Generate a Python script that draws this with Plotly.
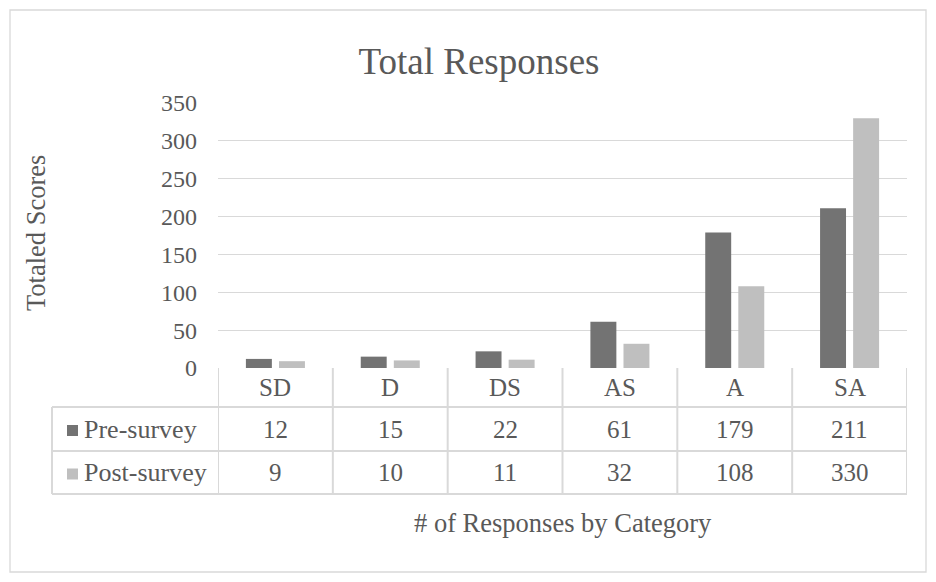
import plotly.graph_objects as go

# Survey response totals per agreement category
categories = ["SD", "D", "DS", "AS", "A", "SA"]
pre_survey = [12, 15, 22, 61, 179, 211]
post_survey = [9, 10, 11, 32, 108, 330]
series_names = ["Pre-survey", "Post-survey"]
y_ticks = [0, 50, 100, 150, 200, 250, 300, 350]

W, H = 936, 582
PL, PR, PT, PB = 218, 907, 103, 368  # plot area edges in pixels
TEXT = "#595959"
LINE = "#d9d9d9"
COLORS = ["#737373", "#bfbfbf"]
FONT = "Liberation Serif"


def px_x(p):
    return (p - PL) / (PR - PL)


def px_y(p):
    return (PB - p) / (PB - PT)


fig = go.Figure()
idx = list(range(len(categories)))
for name, vals, col, off in zip(series_names, [pre_survey, post_survey], COLORS, [-0.257, 0.031]):
    fig.add_trace(go.Bar(x=idx, y=vals, name=name, marker=dict(color=col, line=dict(width=0)),
                         width=0.226, offset=off, showlegend=False))

shapes = []
annotations = []

# outer chart border
shapes.append(dict(type="rect", xref="paper", yref="paper", x0=px_x(10), x1=px_x(926),
                   y0=px_y(572), y1=px_y(10), line=dict(color=LINE, width=1.3), layer="below"))

# data table grid
row_lines = [407, 451, 494]
table_left = 52
for i in range(len(categories) + 1):
    shapes.append(dict(type="line", xref="x", yref="paper", x0=i - 0.5, x1=i - 0.5,
                       y0=px_y(PB), y1=px_y(row_lines[-1]), line=dict(color=LINE, width=2)))
for r in row_lines:
    shapes.append(dict(type="line", xref="paper", yref="paper", x0=px_x(table_left), x1=1,
                       y0=px_y(r), y1=px_y(r), line=dict(color=LINE, width=2)))
shapes.append(dict(type="line", xref="paper", yref="paper", x0=px_x(table_left), x1=px_x(table_left),
                   y0=px_y(row_lines[0]), y1=px_y(row_lines[-1]), line=dict(color=LINE, width=2)))

header_y = (PB + row_lines[0]) / 2
row_ys = [(row_lines[0] + row_lines[1]) / 2, (row_lines[1] + row_lines[2]) / 2]

for i, c in enumerate(categories):
    annotations.append(dict(x=i, y=px_y(header_y), xref="x", yref="paper", text=c, showarrow=False,
                            font=dict(size=25, color=TEXT, family=FONT), xanchor="center", yanchor="middle"))
for vals, ry in zip([pre_survey, post_survey], row_ys):
    for i, v in enumerate(vals):
        annotations.append(dict(x=i, y=px_y(ry), xref="x", yref="paper", text=str(v), showarrow=False,
                                font=dict(size=25, color=TEXT, family=FONT), xanchor="center", yanchor="middle"))

# series labels with legend keys
for name, col, ry in zip(series_names, COLORS, row_ys):
    shapes.append(dict(type="rect", xref="paper", yref="paper", x0=px_x(67), x1=px_x(78),
                       y0=px_y(ry + 7), y1=px_y(ry - 4), fillcolor=col, line=dict(width=0)))
    annotations.append(dict(x=px_x(82), y=px_y(ry), xref="paper", yref="paper", text=name,
                            showarrow=False, font=dict(size=26, color=TEXT, family=FONT),
                            xanchor="left", yanchor="middle"))

# axis titles
annotations.append(dict(x=px_x(36), y=px_y(233), xref="paper", yref="paper", text="Totaled Scores",
                        textangle=-90, showarrow=False, font=dict(size=26.5, color=TEXT, family=FONT),
                        xanchor="center", yanchor="middle"))
annotations.append(dict(x=0.5, y=px_y(523), xref="paper", yref="paper", text="# of Responses by Category",
                        showarrow=False, font=dict(size=26.5, color=TEXT, family=FONT),
                        xanchor="center", yanchor="middle"))

fig.update_layout(
    width=W, height=H, autosize=False,
    margin=dict(l=PL, r=W - PR, t=PT, b=H - PB, pad=0),
    paper_bgcolor="white", plot_bgcolor="white",
    title=dict(text="Total Responses", x=479 / W, xref="container", xanchor="center",
               y=1 - 61 / H, yref="container", yanchor="middle",
               font=dict(size=37, color=TEXT, family=FONT)),
    barmode="group",
    xaxis=dict(range=[-0.5, len(categories) - 0.5], showticklabels=False, showgrid=False,
               zeroline=False, showline=False, ticks="", fixedrange=True),
    yaxis=dict(range=[0, 350], tickvals=y_ticks, showgrid=True, gridcolor=LINE, gridwidth=1.4,
               zeroline=False, showline=False, ticks="", ticklabelstandoff=20,
               tickfont=dict(size=24, color=TEXT, family=FONT), fixedrange=True),
    shapes=shapes, annotations=annotations, showlegend=False,
)

fig.write_html("out.html")
